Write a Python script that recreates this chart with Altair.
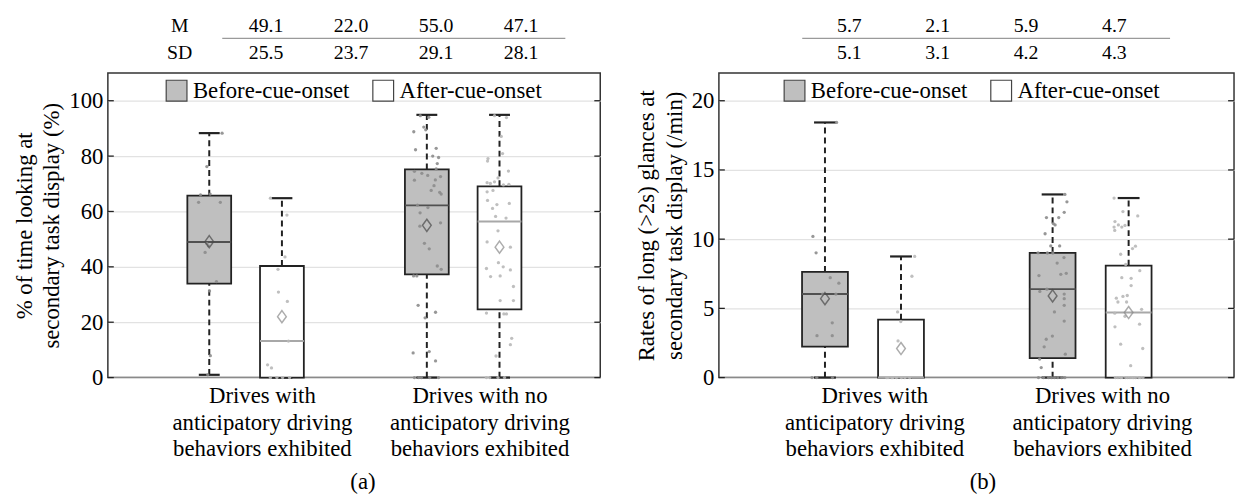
import altair as alt
import pandas as pd

FONT = "Liberation Serif"
PHASES = ["Before-cue-onset", "After-cue-onset"]
GROUP_LABELS = ["Drives with\nanticipatory driving\nbehaviors exhibited",
                "Drives with no\nanticipatory driving\nbehaviors exhibited"]
ROW_LABELS = ["M", "SD"]

# box order: [group1 before, group1 after, group2 before, group2 after]
BOX_GROUP = [1, 1, 2, 2]
BOX_PHASE = ["Before-cue-onset", "After-cue-onset", "Before-cue-onset", "After-cue-onset"]

# ---------------- panel (a) ----------------
A_MEAN = [49.1, 22.0, 55.0, 47.1]
A_SD = [25.5, 23.7, 29.1, 28.1]
A_LO = [1.0, 0.0, 0.0, 0.0]
A_Q1 = [33.9, 0.0, 37.3, 24.6]
A_MED = [49.0, 13.2, 62.2, 56.4]
A_Q3 = [65.7, 40.3, 75.2, 69.1]
A_HI = [88.3, 64.8, 94.9, 94.9]
A_TICKS = [0, 20, 40, 60, 80, 100]
A_YMAX = 110
A_TITLE = ["% of time looking at", "secondary task display (%)"]

A_PTS_1B = [88.3, 76.2, 66.3, 66.0, 63.3, 63.3, 48.4, 47.6, 45.2, 34.7, 31.3, 7.9, 1.0]
A_JIT_1B = [0.059, -0.011, 0.004, -0.040, -0.049, 0.051, -0.011, -0.004, -0.019, 0.033, 0.001, 0.005, -0.007]
A_PTS_1A = [64.8, 58.7, 43.6, 39.1, 30.9, 27.5, 13.2, 4.6, 3.5, 0, 0, 0, 0]
A_JIT_1A = [-0.053, 0.023, 0.014, -0.018, -0.016, 0.025, 0.030, -0.066, -0.048, -0.053, 0.003, 0.035, -0.023]
A_PTS_2B = [94.6, 94.0, 90.5, 89.5, 88.8, 82.3, 82.8, 80.0, 79.5, 77.3, 75.4, 74.5, 73.8, 73.0, 72.6,
            71.3, 71.4, 69.3, 67.6, 66.9, 66.3, 62.3, 61.4, 59.5, 54.7, 55.9, 48.5, 46.5, 40.3, 39.1,
            36.7, 36.7, 26.1, 23.6, 21.6, 8.9, 9.4, 6.0, 0, 0, 0, 0, 0]
A_JIT_2B = [-0.030, 0.009, -0.014, -0.005, -0.060, -0.052, 0.043, 0.027, 0.054, 0.048, 0.043, -0.057, -0.023, 0.004, 0.063,
            -0.057, 0.039, 0.033, 0.020, 0.059, 0.066, -0.043, 0.005, -0.031, -0.032, 0.063, -0.011, 0.011, 0.048, 0.066,
            -0.061, -0.046, -0.040, 0.040, -0.008, -0.063, 0.011, 0.040, -0.057, -0.037, -0.025, 0.013, 0.054]
A_PTS_2A = [94.6, 93.9, 87.1, 80.9, 79.1, 78.2, 74.6, 72.1, 70.4, 70.1, 70.7, 69.6, 69.8, 67.1, 67.6,
            64.0, 62.5, 61.1, 62.9, 58.2, 57.6, 53.0, 49.0, 47.1, 41.5, 40.0, 39.4, 38.9, 36.5, 36.7,
            32.9, 27.8, 27.8, 23.3, 23.0, 23.0, 14.2, 11.9, 7.8, 0, 0, 0, 0]
A_JIT_2A = [-0.023, 0.032, 0.008, 0.014, -0.053, -0.055, 0.041, -0.007, -0.057, -0.042, -0.023, 0.018, 0.043, -0.057, -0.030,
            -0.055, -0.012, -0.032, 0.045, -0.018, 0.030, -0.007, -0.057, 0.050, -0.005, 0.017, -0.060, 0.050, -0.041, 0.003,
            0.064, 0.003, 0.064, -0.060, 0.020, 0.032, 0.056, 0.050, -0.016, -0.060, -0.045, -0.007, 0.023]

# ---------------- panel (b) ----------------
B_MEAN = [5.7, 2.1, 5.9, 4.7]
B_SD = [5.1, 3.1, 4.2, 4.3]
B_LO = [0.0, 0.0, 0.0, 0.0]
B_Q1 = [2.24, 0.0, 1.41, 0.0]
B_MED = [6.03, 0.0, 6.39, 4.70]
B_Q3 = [7.63, 4.19, 9.01, 8.08]
B_HI = [18.43, 8.75, 13.23, 12.97]
B_TICKS = [0, 5, 10, 15, 20]
B_YMAX = 22
B_TITLE = ["Rates of long (>2s) glances at", "secondary task display (/min)"]

B_PTS_1B = [18.43, 10.2, 9.01, 7.22, 6.82, 6.03, 6.03, 3.96, 3.03, 3.03, 0, 0, 0]
B_JIT_1B = [0.051, -0.053, -0.039, 0.023, 0.061, 0.048, -0.010, 0.032, -0.035, 0.032, -0.057, -0.036, 0.033]
B_PTS_1A = [8.75, 7.32, 4.74, 4.05, 2.65, 0, 0, 0, 0, 0, 0, 0, 0]
B_JIT_1A = [0.060, 0.048, -0.015, -0.001, -0.013, -0.063, -0.041, -0.020, 0.002, 0.038, -0.057, 0.017, -0.036]
B_PTS_2B = [13.23, 12.7, 11.94, 11.56, 11.56, 11.13, 11.03, 10.39, 9.51, 9.51, 9.01, 9.0, 9.0, 8.67, 8.27,
            7.37, 7.46, 7.53, 6.22, 6.39, 6.03, 5.70, 5.22, 4.74, 4.08, 3.0, 2.77, 2.22, 1.69, 1.34, 0.72,
            0, 0, 0, 0, 0, 0, 0, 0]
B_JIT_2B = [0.054, 0.063, 0.051, -0.027, 0.027, 0.003, 0.011, -0.033, -0.008, 0.031, -0.064, -0.023, 0.001, 0.050, 0.020,
            -0.060, 0.036, 0.060, -0.056, -0.025, 0.051, 0.051, 0.051, 0.008, 0.051, -0.001, -0.028, -0.037, 0.056, -0.057, -0.050,
            -0.062, -0.040, -0.018, 0.008, 0.023, 0.040, 0.054, -0.005]
B_PTS_2A = [12.97, 11.68, 11.99, 11.27, 11.03, 10.87, 10.99, 10.87, 10.63, 9.49, 9.32, 8.91, 8.17, 7.72, 7.22,
            7.17, 6.65, 5.74, 5.86, 5.93, 5.46, 5.46, 4.65, 4.43, 4.93, 3.86, 3.67, 2.41, 2.10, 0.86,
            0, 0, 0, 0, 0, 0, 0, 0, 0, 0, 0, 0, 0]
B_JIT_2A = [-0.064, 0.040, -0.025, -0.060, -0.045, -0.030, -0.016, -0.064, -0.061, 0.030, 0.017, -0.035, -0.013, 0.049, -0.030,
            0.011, 0.011, -0.054, -0.025, -0.006, -0.047, -0.009, -0.061, -0.016, 0.057, 0.048, -0.060, -0.035, 0.062, 0.009,
            -0.058, -0.047, -0.036, -0.029, -0.013, -0.004, 0.006, 0.015, 0.022, 0.031, 0.044, 0.051, 0.063]

# ---------------- style constants ----------------
H = 308
OFFSET = 0.167      # box offset from group centre (x units)
HALF_BOX = 0.1007   # half box width (x units)
HALF_CAP = 0.048    # half whisker cap width (x units)
X_DOMAIN = [0.367, 2.63]
SHAPE_DIAMOND = "M0,-1L0.72,0L0,1L-0.72,0Z"
BIG = 23
SMALL = 20


def panel(mean, sd, lo, q1, med, q3, hi, pts, jit, ticks, ymax, ytitle, W,
          table_range, line_x, row_labels, legend_x, label_dx, plabel, plabel_x):
    xs = alt.Scale(domain=X_DOMAIN, nice=False, zero=False)
    ys = alt.Scale(domain=[0, ymax], nice=False, zero=True)

    stats = pd.DataFrame({"group": BOX_GROUP, "phase": BOX_PHASE, "lo": lo, "q1": q1,
                          "med": med, "q3": q3, "hi": hi, "mean": mean})
    side = stats["phase"].map({PHASES[0]: -1, PHASES[1]: 1})
    stats["pos"] = stats["group"] + side * OFFSET
    stats["bl"] = stats["pos"] - HALF_BOX
    stats["br"] = stats["pos"] + HALF_BOX
    stats["cl"] = stats["pos"] - HALF_CAP
    stats["cr"] = stats["pos"] + HALF_CAP
    stats["medc"] = stats["phase"].map({PHASES[0]: "#505050", PHASES[1]: "#a8a8a8"})
    stats["dc"] = stats["phase"].map({PHASES[0]: "#4a4a4a", PHASES[1]: "#8a8a8a"})

    rows = []
    for i in range(4):
        for v, j in zip(pts[i], jit[i]):
            rows.append({"phase": BOX_PHASE[i], "x": stats["pos"][i] + j, "v": v})
    pdf = pd.DataFrame(rows)
    pdf["pc"] = pdf["phase"].map({PHASES[0]: "#8c8c8c", PHASES[1]: "#b8b8b8"})

    yaxis = alt.Axis(values=ticks, title=ytitle, grid=True, gridColor="#e2e2e2", gridWidth=1.3,
                     ticks=False, domain=False, labelFont=FONT, labelFontSize=BIG, labelColor="black",
                     labelPadding=5, titleFont=FONT, titleFontSize=BIG, titleFontWeight="normal",
                     titleColor="black", titlePadding=5, titleLineHeight=28)

    def Y(f):
        return alt.Y(f, scale=ys, axis=yaxis)

    def X(f):
        return alt.X(f, scale=xs, axis=None)

    base = alt.Chart(stats)

    w_up = base.mark_rule(strokeDash=[6, 4], strokeWidth=2, color="#222").encode(
        x=X("pos:Q"), y=Y("q3:Q"), y2="hi:Q")
    w_dn = base.mark_rule(strokeDash=[6, 4], strokeWidth=2, color="#222").encode(
        x=X("pos:Q"), y=Y("lo:Q"), y2="q1:Q")
    cap_up = base.mark_rule(strokeWidth=2.2, color="#222").encode(
        x=X("cl:Q"), x2="cr:Q", y=Y("hi:Q"))
    cap_dn = base.mark_rule(strokeWidth=2.2, color="#222").encode(
        x=X("cl:Q"), x2="cr:Q", y=Y("lo:Q"))
    boxes = base.mark_rect(stroke="#222", strokeWidth=1.8).encode(
        x=X("bl:Q"), x2="br:Q", y=Y("q1:Q"), y2="q3:Q",
        fill=alt.Fill("phase:N", scale=alt.Scale(domain=PHASES, range=["#bfbfbf", "#ffffff"]),
                      legend=alt.Legend(title=None, orient="none", legendX=legend_x, legendY=6,
                                        direction="horizontal", symbolType="square", symbolSize=441,
                                        symbolStrokeColor="#444", symbolStrokeWidth=1.2,
                                        symbolOpacity=1, labelFont=FONT, labelFontSize=BIG,
                                        labelColor="black", labelOffset=5, columnPadding=20,
                                        padding=0, labelLimit=400)))
    meds = base.mark_rule(strokeWidth=2).encode(
        x=X("bl:Q"), x2="br:Q", y=Y("med:Q"),
        color=alt.Color("medc:N", scale=None))
    dots = alt.Chart(pdf).mark_circle(size=11, opacity=0.9).encode(
        x=X("x:Q"), y=Y("v:Q"), color=alt.Color("pc:N", scale=None))
    diam = base.mark_point(shape=SHAPE_DIAMOND, size=150, filled=False, strokeWidth=1.5).encode(
        x=X("pos:Q"), y=Y("mean:Q"), stroke=alt.Stroke("dc:N", scale=None))

    tdf = pd.DataFrame({"t": ticks})
    tick_l = alt.Chart(tdf).mark_rule(color="#222", strokeWidth=1.3).encode(
        y=Y("t:Q"), x=alt.value(0), x2=alt.value(6))
    tick_r = alt.Chart(tdf).mark_rule(color="#222", strokeWidth=1.3).encode(
        y=Y("t:Q"), x=alt.value(W - 6), x2=alt.value(W))

    tab = pd.DataFrame({"col": [0, 1, 2, 3], "m": [f"{v:.1f}" for v in mean],
                        "sd": [f"{v:.1f}" for v in sd]})
    tx = alt.X("col:Q", scale=alt.Scale(domain=[0, 3], range=table_range), axis=None)
    txt_kw = dict(font=FONT, fontSize=SMALL, baseline="middle", align="center", color="black")
    m_row = alt.Chart(tab).mark_text(**txt_kw).encode(x=tx, y=alt.value(-48), text="m:N")
    sd_row = alt.Chart(tab).mark_text(**txt_kw).encode(x=tx, y=alt.value(-20), text="sd:N")
    hline = alt.Chart(pd.DataFrame({"a": [0]})).mark_rule(color="#9a9a9a", strokeWidth=1.3).encode(
        x=alt.value(line_x[0]), x2=alt.value(line_x[1]), y=alt.value(-35))

    layers = [w_up, w_dn, cap_up, cap_dn, boxes, meds, dots, diam, tick_l, tick_r,
              m_row, sd_row, hline]
    if row_labels:
        rl = pd.DataFrame({"r": ROW_LABELS})
        layers.append(alt.Chart(rl).transform_filter(alt.datum.r == "M").mark_text(**txt_kw).encode(
            x=alt.value(72.7), y=alt.value(-48), text="r:N"))
        layers.append(alt.Chart(rl).transform_filter(alt.datum.r == "SD").mark_text(**txt_kw).encode(
            x=alt.value(72.7), y=alt.value(-20), text="r:N"))

    gdf = pd.DataFrame({"g": [1, 2], "label": GROUP_LABELS})
    layers.append(alt.Chart(gdf).mark_text(font=FONT, fontSize=BIG, baseline="top", align="center",
                                           lineBreak="\n", lineHeight=26.7, dx=label_dx,
                                           color="black").encode(
        x=X("g:Q"), y=alt.value(316), text="label:N"))
    layers.append(alt.Chart(pd.DataFrame({"t": [plabel]})).mark_text(
        font=FONT, fontSize=BIG, baseline="middle", align="center", color="black").encode(
        x=alt.value(plabel_x), y=alt.value(414), text="t:N"))

    return alt.layer(*layers).resolve_scale(x="independent").properties(width=W, height=H)


pa = panel(A_MEAN, A_SD, A_LO, A_Q1, A_MED, A_Q3, A_HI,
           [A_PTS_1B, A_PTS_1A, A_PTS_2B, A_PTS_2A], [A_JIT_1B, A_JIT_1A, A_JIT_2B, A_JIT_2A],
           A_TICKS, A_YMAX, A_TITLE, 498, [160, 418], [115.7, 462.7], True, 58, 17, "(a)", 258)
pb = panel(B_MEAN, B_SD, B_LO, B_Q1, B_MED, B_Q3, B_HI,
           [B_PTS_1B, B_PTS_1A, B_PTS_2B, B_PTS_2A], [B_JIT_1B, B_JIT_1A, B_JIT_2B, B_JIT_2A],
           B_TICKS, B_YMAX, B_TITLE, 521, [132, 400], [84.3, 456.3], False, 65, 12, "(b)", 267)

chart = alt.hconcat(pa, pb, spacing=33).resolve_scale(
    fill="independent", y="independent").resolve_legend(fill="independent").configure(
    font=FONT).configure_view(
    stroke="#333", strokeWidth=1.5).properties(
    padding={"left": 4, "top": 4, "right": 0, "bottom": 0}, background="white")

chart.save("out.html", embed_options={"renderer": "svg", "actions": False})
